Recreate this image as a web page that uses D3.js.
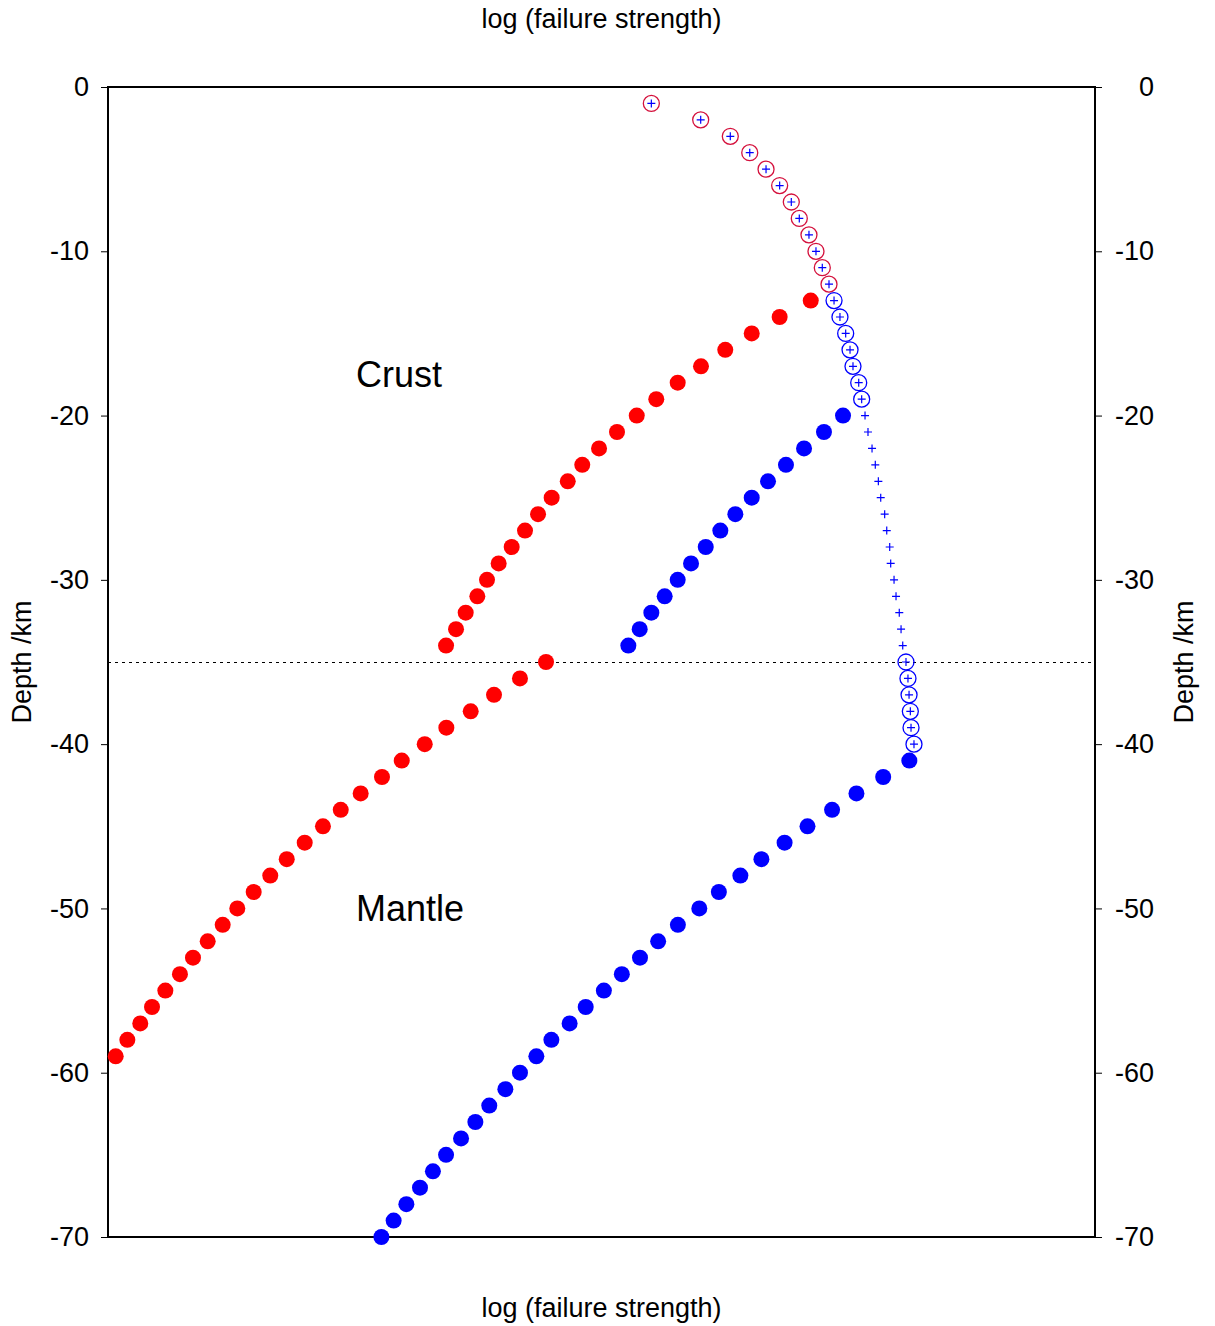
<!DOCTYPE html>
<html>
<head>
<meta charset="utf-8">
<script src="https://cdn.jsdelivr.net/npm/d3@7"></script>
<style>
  body { margin: 0; background: #fff; }
  text { font-family: "Liberation Sans", Arial, sans-serif; fill: #000; }
</style>
</head>
<body>
<div id="root"></div>
<script>
// Depth tick labels (km)
const depthTicks = [0, -10, -20, -30, -40, -50, -60, -70];

// Brittle (frictional) strength, sampled every km, plotted as "+"
const brittleDepth = [1, 2, 3, 4, 5, 6, 7, 8, 9, 10, 11, 12, 13, 14, 15, 16, 17, 18, 19, 20,
  21, 22, 23, 24, 25, 26, 27, 28, 29, 30, 31, 32, 33, 34, 35, 36, 37, 38, 39, 40];
const brittleValue = [55.05, 60.05, 63.05, 65.02, 66.67, 68.05, 69.23, 70.04, 71.02, 71.73,
  72.37, 73.05, 73.56, 74.16, 74.74, 75.18, 75.48, 76.06, 76.36, 76.70,
  77.00, 77.41, 77.74, 78.05, 78.29, 78.69, 78.90, 79.20, 79.30, 79.64,
  79.84, 80.17, 80.35, 80.52, 80.85, 81.05, 81.16, 81.29, 81.36, 81.66];

// Depths where the brittle value is the weakest one (ringed)
const redRingDepth = [1, 2, 3, 4, 5, 6, 7, 8, 9, 10, 11, 12];
const blueRingDepth = [13, 14, 15, 16, 17, 18, 19, 35, 36, 37, 38, 39, 40];

// Ductile strength, red series
const redCrustDepth = [13, 14, 15, 16, 17, 18, 19, 20, 21, 22, 23, 24, 25, 26, 27, 28, 29, 30, 31, 32, 33, 34];
const redCrustValue = [71.20, 68.05, 65.22, 62.54, 60.08, 57.72, 55.55, 53.57, 51.57, 49.75, 48.05,
  46.58, 44.95, 43.57, 42.25, 40.90, 39.58, 38.40, 37.42, 36.24, 35.26, 34.25];
const redMantleDepth = [35, 36, 37, 38, 39, 40, 41, 42, 43, 44, 45, 46, 47, 48, 49, 50, 51, 52,
  53, 54, 55, 56, 57, 58, 59];
const redMantleValue = [44.38, 41.74, 39.11, 36.75, 34.28, 32.09, 29.76, 27.76, 25.60, 23.58,
  21.78, 19.93, 18.11, 16.44, 14.76, 13.10, 11.62, 10.10, 8.61, 7.29, 5.81, 4.46, 3.27, 1.96, 0.78];

// Ductile strength, blue series
const blueCrustDepth = [20, 21, 22, 23, 24, 25, 26, 27, 28, 29, 30, 31, 32, 33, 34];
const blueCrustValue = [74.47, 72.54, 70.52, 68.69, 66.87, 65.22, 63.56, 62.04, 60.56, 59.07,
  57.72, 56.40, 55.05, 53.87, 52.72];
const blueMantleDepth = [41, 42, 43, 44, 45, 46, 47, 48, 49, 50, 51, 52, 53, 54, 55, 56, 57, 58,
  59, 60, 61, 62, 63, 64, 65, 66, 67, 68, 69, 70];
const blueMantleValue = [81.19, 78.54, 75.83, 73.36, 70.87, 68.55, 66.20, 64.07, 61.89, 59.91,
  57.74, 55.74, 53.90, 52.06, 50.24, 48.40, 46.77, 44.92, 43.40, 41.74, 40.26, 38.63, 37.22,
  35.77, 34.25, 32.92, 31.61, 30.23, 28.94, 27.70];

const moho = -35;

const config = { width: 1215, height: 1326, left: 108, right: 1095, top: 87, bottom: 1237 };
const labelFont = '27px';

const chart = d3.select('#root')
  .append('svg:svg')
  .attr('width', config.width)
  .attr('height', config.height);

const x = d3.scaleLinear().domain([0, 100]).range([config.left, config.right]);
const y = d3.scaleLinear().domain([0, -70]).range([config.top, config.bottom]);

const zip = (depths, values) => depths.map((d, i) => ({ depth: -d, value: values[i] }));
const brittle = zip(brittleDepth, brittleValue);
const valueAt = d => brittleValue[brittleDepth.indexOf(d)];

// Moho (dotted)
chart.append('line')
  .attr('x1', x(0)).attr('x2', x(100))
  .attr('y1', y(moho) + 0.5).attr('y2', y(moho) + 0.5)
  .attr('stroke', '#000').attr('stroke-width', 1)
  .attr('stroke-dasharray', '3,4');

// Axes (plain hyphen for the minus sign, as in the original)
const fmt = d => String(d);
const leftAxis = d3.axisLeft(y).tickValues(depthTicks).tickSize(7).tickFormat(fmt);
const rightAxis = d3.axisRight(y).tickValues(depthTicks).tickSize(7).tickFormat(fmt);

const gl = chart.append('g').attr('transform', `translate(${config.left},0)`).call(leftAxis);
const gr = chart.append('g').attr('transform', `translate(${config.right},0)`).call(rightAxis);
[gl, gr].forEach(g => {
  g.select('.domain').remove();
  g.selectAll('.tick line').attr('stroke', '#000').attr('stroke-width', 1);
  g.selectAll('.tick text')
    .style('font-family', '"Liberation Sans", Arial, sans-serif')
    .style('font-size', labelFont)
    .attr('fill', '#000');
});
gl.selectAll('.tick text').attr('x', -19).attr('text-anchor', 'end');
gr.selectAll('.tick text').attr('x', 59).attr('text-anchor', 'end');

// Frame
chart.append('rect')
  .attr('x', config.left).attr('y', config.top)
  .attr('width', config.right - config.left)
  .attr('height', config.bottom - config.top)
  .attr('fill', 'none').attr('stroke', '#000').attr('stroke-width', 2);

// Filled ductile points
const drawDots = (data, colour) => {
  chart.append('g').selectAll('circle')
    .data(data)
    .enter()
      .append('circle')
      .attr('cx', d => x(d.value))
      .attr('cy', d => y(d.depth))
      .attr('r', 8)
      .attr('fill', colour);
};
drawDots(zip(redCrustDepth, redCrustValue), '#ff0000');
drawDots(zip(redMantleDepth, redMantleValue), '#ff0000');
drawDots(zip(blueCrustDepth, blueCrustValue), '#0000ff');
drawDots(zip(blueMantleDepth, blueMantleValue), '#0000ff');

// Rings over the brittle points
const drawRings = (depths, colour) => {
  chart.append('g').selectAll('circle')
    .data(depths.map(d => ({ depth: -d, value: valueAt(d) })))
    .enter()
      .append('circle')
      .attr('cx', d => x(d.value))
      .attr('cy', d => y(d.depth))
      .attr('r', 8)
      .attr('fill', 'none')
      .attr('stroke', colour)
      .attr('stroke-width', 1.3);
};
drawRings(redRingDepth, '#d4103c');
drawRings(blueRingDepth, '#0000ff');

// Brittle "+" markers
chart.append('g').selectAll('path')
  .data(brittle)
  .enter()
    .append('path')
    .attr('d', d => {
      const cx = x(d.value), cy = y(d.depth);
      return `M${cx - 4},${cy}H${cx + 4}M${cx},${cy - 4}V${cy + 4}`;
    })
    .attr('stroke', '#0000ff')
    .attr('stroke-width', 1.2)
    .attr('fill', 'none');

// Titles
const mid = (config.left + config.right) / 2;
chart.append('text').attr('x', mid).attr('y', 28)
  .attr('text-anchor', 'middle').style('font-size', labelFont)
  .text('log (failure strength)');
chart.append('text').attr('x', mid).attr('y', 1317)
  .attr('text-anchor', 'middle').style('font-size', labelFont)
  .text('log (failure strength)');

chart.append('text')
  .attr('transform', 'translate(31,662) rotate(-90)')
  .attr('text-anchor', 'middle').style('font-size', labelFont)
  .text('Depth /km');
chart.append('text')
  .attr('transform', 'translate(1193,662) rotate(-90)')
  .attr('text-anchor', 'middle').style('font-size', labelFont)
  .text('Depth /km');

chart.append('text').attr('x', 356).attr('y', 387)
  .style('font-size', '36px').text('Crust');
chart.append('text').attr('x', 356).attr('y', 921)
  .style('font-size', '36px').text('Mantle');
</script>
</body>
</html>
